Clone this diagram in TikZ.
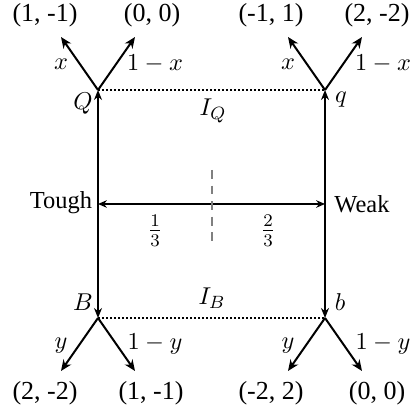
\documentclass[tikz,border=0pt]{standalone}
\usepackage[no-math]{fontspec}
\setmainfont{Liberation Serif}
\usetikzlibrary{arrows.meta}
\begin{document}
\begin{tikzpicture}[x=0.45pt,y=-0.45pt,
  branch/.style={line width=0.9pt,-{Stealth[length=5pt,width=4.2pt]}},
  stem/.style={line width=0.9pt,-{Stealth[length=4.5pt,width=3.6pt]}},
  span/.style={line width=0.55pt,{Stealth[length=4pt,width=3.4pt]}-{Stealth[length=4pt,width=3.4pt]}},
  info/.style={densely dotted,line width=0.8pt},
  pay/.style={font=\fontsize{11.7}{14}\selectfont,inner sep=0pt},
  mlab/.style={font=\fontsize{10.8}{13}\selectfont,inner sep=0pt},
  frac/.style={font=\fontsize{12}{14}\selectfont,inner sep=0pt},
  side/.style={font=\fontsize{11}{13}\selectfont,inner sep=0pt}]
\useasboundingbox (0,0) rectangle (409,413);
% junctions
\coordinate (Q) at (98,90);
\coordinate (q) at (325,90);
\coordinate (B) at (98,318);
\coordinate (b) at (325,318);
\coordinate (L) at (98,204);
\coordinate (R) at (325,204);
% arrow ends
\coordinate (Qa) at (61,37);
\coordinate (Qb) at (135,37);
\coordinate (qa) at (288,37);
\coordinate (qb) at (362,37);
\coordinate (Ba) at (61,371);
\coordinate (Bb) at (135,371);
\coordinate (ba) at (288,371);
\coordinate (bb) at (362,371);
\coordinate (dT) at (212,170);
\coordinate (dB) at (212,242);
% information sets
\draw[info] (Q) -- (q);
\draw[info] (B) -- (b);
% stems
\draw[stem] (L) -- (Q);
\draw[stem] (L) -- (B);
\draw[stem] (R) -- (q);
\draw[stem] (R) -- (b);
\draw[span] (L) -- (R);
\draw[gray,line width=0.6pt,dash pattern=on 4pt off 3pt] (dT) -- (dB);
% branches
\draw[branch] (Q) -- (Qa);
\draw[branch] (Q) -- (Qb);
\draw[branch] (q) -- (qa);
\draw[branch] (q) -- (qb);
\draw[branch] (B) -- (Ba);
\draw[branch] (B) -- (Bb);
\draw[branch] (b) -- (ba);
\draw[branch] (b) -- (bb);
% payoffs
\node[pay] (p1) at (45,15) {(1, -1)};
\node[pay] (p2) at (152,15) {(0, 0)};
\node[pay] (p3) at (271,15) {(-1, 1)};
\node[pay] (p4) at (377,15) {(2, -2)};
\node[pay] (p5) at (45,393) {(2, -2)};
\node[pay] (p6) at (151,393) {(1, -1)};
\node[pay] (p7) at (271,393) {(-2, 2)};
\node[pay] (p8) at (377,393) {(0, 0)};
% branch labels
\node[mlab] (x1) at (61,64) {$x$};
\node[mlab] (x2) at (155,64) {$1-x$};
\node[mlab] (x3) at (288,64) {$x$};
\node[mlab] (x4) at (383,64) {$1-x$};
\node[mlab] (y1) at (61,346) {$y$};
\node[mlab] (y2) at (155,344) {$1-y$};
\node[mlab] (y3) at (288,346) {$y$};
\node[mlab] (y4) at (383,344) {$1-y$};
% node labels
\node[mlab] (lQ) at (83,104) {$Q$};
\node[mlab] (lq) at (341,100) {$q$};
\node[mlab] (lB) at (83,302) {$B$};
\node[mlab] (lb) at (340,302) {$b$};
\node[mlab] (IQ) at (213,111) {$I_Q$};
\node[mlab] (IB) at (212,298) {$I_B$};
% sides
\node[side] (tough) at (61,203) {Tough};
\node[side] (weak) at (362,204) {Weak};
\node[frac] (f1) at (155,231) {$\frac{1}{3}$};
\node[frac] (f2) at (268,231) {$\frac{2}{3}$};
\end{tikzpicture}
\end{document}
